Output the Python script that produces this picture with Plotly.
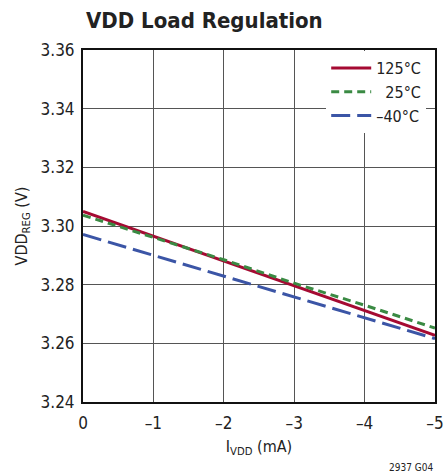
import plotly.graph_objects as go

current_ma = [0, -1, -2, -3, -4, -5]
v_125 = [3.3050, 3.2965, 3.2880, 3.2796, 3.2712, 3.2627]
v_25 = [3.3037, 3.2960, 3.2885, 3.2805, 3.2730, 3.2652]
v_m40 = [3.2971, 3.2900, 3.2830, 3.2758, 3.2688, 3.2616]

series = [
    ("125°C", v_125, "#A50A32", "solid"),
    ("  25°C", v_25, "#3A8A43", "8px,5px"),
    ("–40°C", v_m40, "#3B55A6", "19px,7px"),
]

x_ticks = [0, -1, -2, -3, -4, -5]
x_tick_text = ["0", "–1", "–2", "–3", "–4", "–5"]
y_ticks = [3.24, 3.26, 3.28, 3.30, 3.32, 3.34, 3.36]
y_tick_text = ["3.24", "3.26", "3.28", "3.30", "3.32", "3.34", "3.36"]

FONT = "DejaVu Sans Condensed, Liberation Sans Narrow, Arial Narrow, sans-serif"

fig = go.Figure()
for name, vals, color, dash in series:
    fig.add_trace(go.Scatter(x=current_ma, y=vals, mode="lines", name=name,
                             line=dict(color=color, width=3, dash=dash)))

fig.update_layout(
    width=447, height=473,
    margin=dict(l=83, r=12, t=50, b=71),
    paper_bgcolor="white", plot_bgcolor="white",
    font=dict(family=FONT, size=16, color="#222"),
    showlegend=True,
    legend=dict(x=0.975, y=0.997, xanchor="right", yanchor="top",
                bgcolor="white", borderwidth=0, font=dict(size=16, family=FONT),
                tracegroupgap=0, itemwidth=40),
    xaxis=dict(range=[0, -5], tickvals=x_ticks, ticktext=x_tick_text,
               showgrid=True, gridcolor="#555", gridwidth=1, automargin=False,
               showline=True, linecolor="#111", linewidth=2, mirror=True,
               ticks="", tickfont=dict(size=17), zeroline=False, ticklabelstandoff=5,
               title=dict(text="I<sub>VDD</sub> (mA)", font=dict(size=16), standoff=8)),
    yaxis=dict(range=[3.24, 3.36], tickvals=y_ticks, ticktext=y_tick_text,
               showgrid=True, gridcolor="#555", gridwidth=1, automargin=False,
               showline=True, linecolor="#111", linewidth=2, mirror=True,
               ticks="", tickfont=dict(size=17), zeroline=False, ticklabelstandoff=3,
               title=dict(text="VDD<sub>REG</sub> (V)", font=dict(size=16), standoff=9)),
    title=dict(text="<b>VDD Load Regulation</b>", x=86/447, xanchor="left",
               y=1 - 20/473, yanchor="middle", font=dict(size=22, family=FONT, color="#222")),
)
fig.add_annotation(text="2937 G04", xref="paper", yref="paper", x=1.0, y=-0.165,
                   xanchor="right", yanchor="top", showarrow=False,
                   font=dict(size=10, family=FONT, color="#222"))
fig.write_html("out.html", config={"displayModeBar": False},
               post_script="document.body.style.margin='0';")
